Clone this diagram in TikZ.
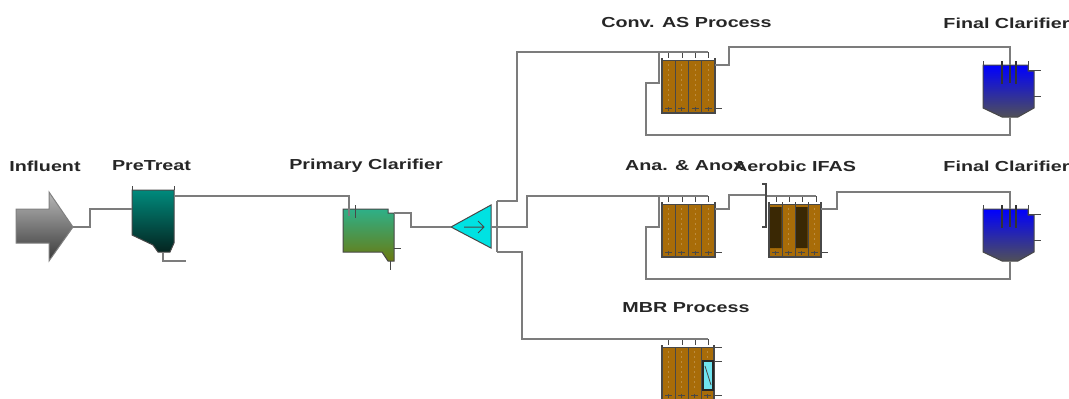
\documentclass[tikz,border=0pt]{standalone}
\usepackage{fontspec}
\setmainfont{Liberation Sans}[FakeStretch=1.36]
\usetikzlibrary{calc}
\definecolor{brown1}{HTML}{A86C08}
\definecolor{brownd}{HTML}{3A2804}
\definecolor{ln}{HTML}{7C7C7C}
\definecolor{edge}{HTML}{484848}
\definecolor{cteal}{HTML}{008A7C}
\definecolor{cteald}{HTML}{042420}
\definecolor{cgreen}{HTML}{2EB088}
\definecolor{colive}{HTML}{6A7A10}
\definecolor{ccyan}{HTML}{00E2E2}
\definecolor{cblue}{HTML}{0000FF}
\definecolor{cslate}{HTML}{505058}
\definecolor{cmem}{HTML}{70E4F0}
\tikzset{
  x=1pt,y=-1pt,
  pipe/.style={draw=ln,line width=1.3pt},
  stub/.style={draw=edge,line width=1pt},
  lbl/.style={font=\fontsize{14.5}{16}\selectfont\bfseries,text=black!85,inner sep=0pt,anchor=center},
  cell/.style={draw=edge,line width=1pt,fill=brown1},
}
% \bioreactor{name}{x}{y}{width}: four-cell basin, top-left at (x,y)
\newcommand{\bioreactor}[4]{%
  \begin{scope}[shift={(#2,#3)}]
    \foreach \k in {0,1,2,3}{
      \path[cell] ({\k*#4/4},2) rectangle ({(\k+1)*#4/4},55);
      \fill[white] ({\k*#4/4+.8},0) rectangle ({(\k+1)*#4/4-.8},2.4);
      \draw[edge,line width=.7pt] ({\k*#4/4+3},50.5) -- ({\k*#4/4+10},50.5);
      \draw[edge,line width=.6pt] ({\k*#4/4+6.5},52.5) -- ({\k*#4/4+6.5},49);
      \draw[white,opacity=.22,line width=.8pt,dash pattern=on 2pt off 3pt] ({\k*#4/4+6.5},6) -- ({\k*#4/4+6.5},46);
    }
    \draw[edge,line width=1.2pt] (0,0) -- (0,55) -- (#4,55) -- (#4,0);
    \node[inner sep=0pt,minimum width=#4 pt,minimum height=55pt,anchor=north west] (#1) at (0,0) {};
    \coordinate (#1-out) at (#4,7);
  \end{scope}}
\newcommand{\clarfinal}[3]{%
  \begin{scope}[shift={(#2,#3)}]
    \shade[top color=cblue,bottom color=cslate,draw=edge,line width=1pt]
      (0,0) -- (45,0) -- (45,6) -- (51,6) -- (51,43) -- (35,52) -- (19,52) -- (0,43) -- cycle;
    \draw[stub] (0,0) -- (0,-4);
    \draw[stub] (45,6) -- (45,-4);
    \draw[stub] (45,5) -- (58,5);
    \draw[stub] (51,31) -- (58,31);
    \node[inner sep=0pt,minimum width=51pt,minimum height=52pt,anchor=north west] (#1) at (0,0) {};
    \coordinate (#1-top) at (27,0);
    \coordinate (#1-bot) at (27,52);
  \end{scope}}
% baffles drawn over the inflow pipe
\newcommand{\baffles}[2]{%
  \begin{scope}[shift={(#1,#2)}]
    \draw[draw=black!80,line width=1.1pt] (19,-4) -- (19,19) (33,-4) -- (33,19) (27,0) -- (27,18);
  \end{scope}}
\begin{document}
\begin{tikzpicture}
\useasboundingbox (0,0) rectangle (1069,399);
\clip (0,0) rectangle (1069,399);
\fill[white] (0,0) rectangle (1069,399);

% units
\shade[top color=black!28,bottom color=black!78,draw=black!50,line width=1pt]
  (16,209) -- (49,209) -- (49,192) -- (73,227) -- (49,261) -- (49,243) -- (16,243) -- cycle;
\node[inner sep=0pt,minimum width=57pt,minimum height=69pt,anchor=north west] (inf) at (16,192) {};
\coordinate (inf-out) at (73,227);

\shade[top color=cteal,bottom color=cteald,draw=edge,line width=1pt]
  (132,190) -- (174,190) -- (174,243) -- (170,252) -- (158,252) -- (153,245) -- (132,235) -- cycle;
\draw[stub] (132,190) -- (132,186) (174,190) -- (174,186);
\node[inner sep=0pt,minimum width=42pt,minimum height=62pt,anchor=north west] (pre) at (132,190) {};
\coordinate (pre-in) at (132,209);
\coordinate (pre-out) at (174,196);
\coordinate (pre-bot) at (163,252);
\coordinate (pre-end) at (186,261);

\shade[top color=cgreen,bottom color=colive,draw=edge,line width=1pt]
  (343,209) -- (388,209) -- (388,213) -- (394,213) -- (394,261) -- (388,261) -- (382,252) -- (343,252) -- cycle;
\draw[stub] (355,205) -- (355,218);
\draw[stub] (394,248) -- (401,248);
\draw[stub] (390,261) -- (390,270);
\node[inner sep=0pt,minimum width=51pt,minimum height=52pt,anchor=north west] (prim) at (343,209) {};
\coordinate (prim-in) at (349,216);
\coordinate (prim-out) at (394,213);

\path[fill=ccyan,draw=edge,line width=1pt] (451,227) -- (491,205) -- (491,248) -- cycle;
\node[inner sep=0pt,minimum width=40pt,minimum height=43pt,anchor=north west] (split) at (451,205) {};
\coordinate (split-in) at (451,227);
\coordinate (split-out) at (491,227);
\coordinate (split-a) at (497,201);
\coordinate (split-c) at (497,252);

\bioreactor{conv}{662}{58}{53}
\bioreactor{ana}{662}{202}{53}
\bioreactor{ifas}{769}{202}{52}
\bioreactor{mbr}{662}{345}{52}
\fill[brownd] (770,207) rectangle (781.5,248) (796,207) rectangle (807.5,248);
\foreach \n in {0,1,2,3}{\draw[edge,line width=1pt] ({769+\n*13},202) -- ({769+\n*13},257);}

\draw[stub] (715,108) -- (722,108);
\draw[stub] (715,252) -- (722,252);
\draw[stub] (821,252) -- (828,252);
\draw[stub] (714,347) -- (722,347) (714,361) -- (722,361) (714,395) -- (722,395);
\path[fill=cmem,draw=black!85,line width=1.1pt] (703,361) rectangle (713,390);
\draw[edge,line width=.8pt] (705,366) -- (711,385);

\clarfinal{fc1}{983}{65}
\clarfinal{fc2}{983}{209}

% header drops
\foreach \yy in {52,196,339}{\foreach \xx in {668,682,695,708}{\draw[edge,line width=1pt] (\xx,\yy) -- (\xx,{\yy+6});}}
\foreach \xx in {776,789,802,816}{\draw[edge,line width=1pt] (\xx,196) -- (\xx,202);}

% connectors
\coordinate (h1) at (708,52);
\coordinate (h2) at (708,196);
\coordinate (h3) at (708,339);
\coordinate (h4) at (816,196);
\coordinate (baf) at (766,195);
\draw[pipe] (inf-out) -- (90,227) -- (90,209) -- (pre-in);
\draw[pipe] (pre-out) -- (349,196) -- (prim-in);
\draw[pipe] (pre-bot) -- (163,261) -- (pre-end);
\draw[pipe] (prim-out) -- (411,213) -- (411,227) -- (split-in);
\draw[pipe] (split-a) -- (split-c);
\draw[pipe] (split-a) -- (517,201) -- (517,52) -- (h1);
\draw[pipe] (split-out) -- (527,227) -- (527,196) -- (h2);
\draw[pipe] (split-c) -- (522,252) -- (522,339) -- (h3);
\draw[pipe] (fc1-top) -- (1010,47) -- (729,47) -- (729,65) -- (conv-out);
\draw[pipe] (fc1-bot) -- (1010,135) -- (646,135) -- (646,83) -- (659,83) -- (659,52);
\draw[pipe] (fc2-top) -- (1010,192) -- (837,192) -- (837,209) -- (ifas-out);
\draw[pipe] (fc2-bot) -- (1010,279) -- (646,279) -- (646,227) -- (659,227) -- (659,196);
\draw[pipe] (ana-out) -- (729,209) -- (729,195) -- (baf);
\draw[pipe] (766,196) -- (h4);
\draw[edge,line width=1.1pt] (762,184) -- (766,184) -- (766,227) -- (762,227);
\baffles{983}{65}
\baffles{983}{209}
\draw[edge,line width=1pt] (464,227) -- (484,227) (478,221) -- (484,227) -- (478,233);

% labels
\node[lbl] (l1) at (45,166) {Influent};
\node[lbl] (l2) at (151.5,166) {PreTreat};
\node[lbl] (l3) at (366,166) {Primary Clarifier};
\node[lbl] (l4) at (686.5,23) {Conv. AS Process};
\node[lbl] (l5) at (1006.5,23) {Final Clarifier};
\node[lbl] (l6) at (1006.5,166) {Final Clarifier};
\node[lbl,anchor=west] (l7) at (625,166) {Ana. \& Anox};
\node[lbl,anchor=west] (l8) at (733,166) {Aerobic IFAS};
\node[lbl] (l9) at (686,308) {MBR Process};
\end{tikzpicture}
\end{document}
